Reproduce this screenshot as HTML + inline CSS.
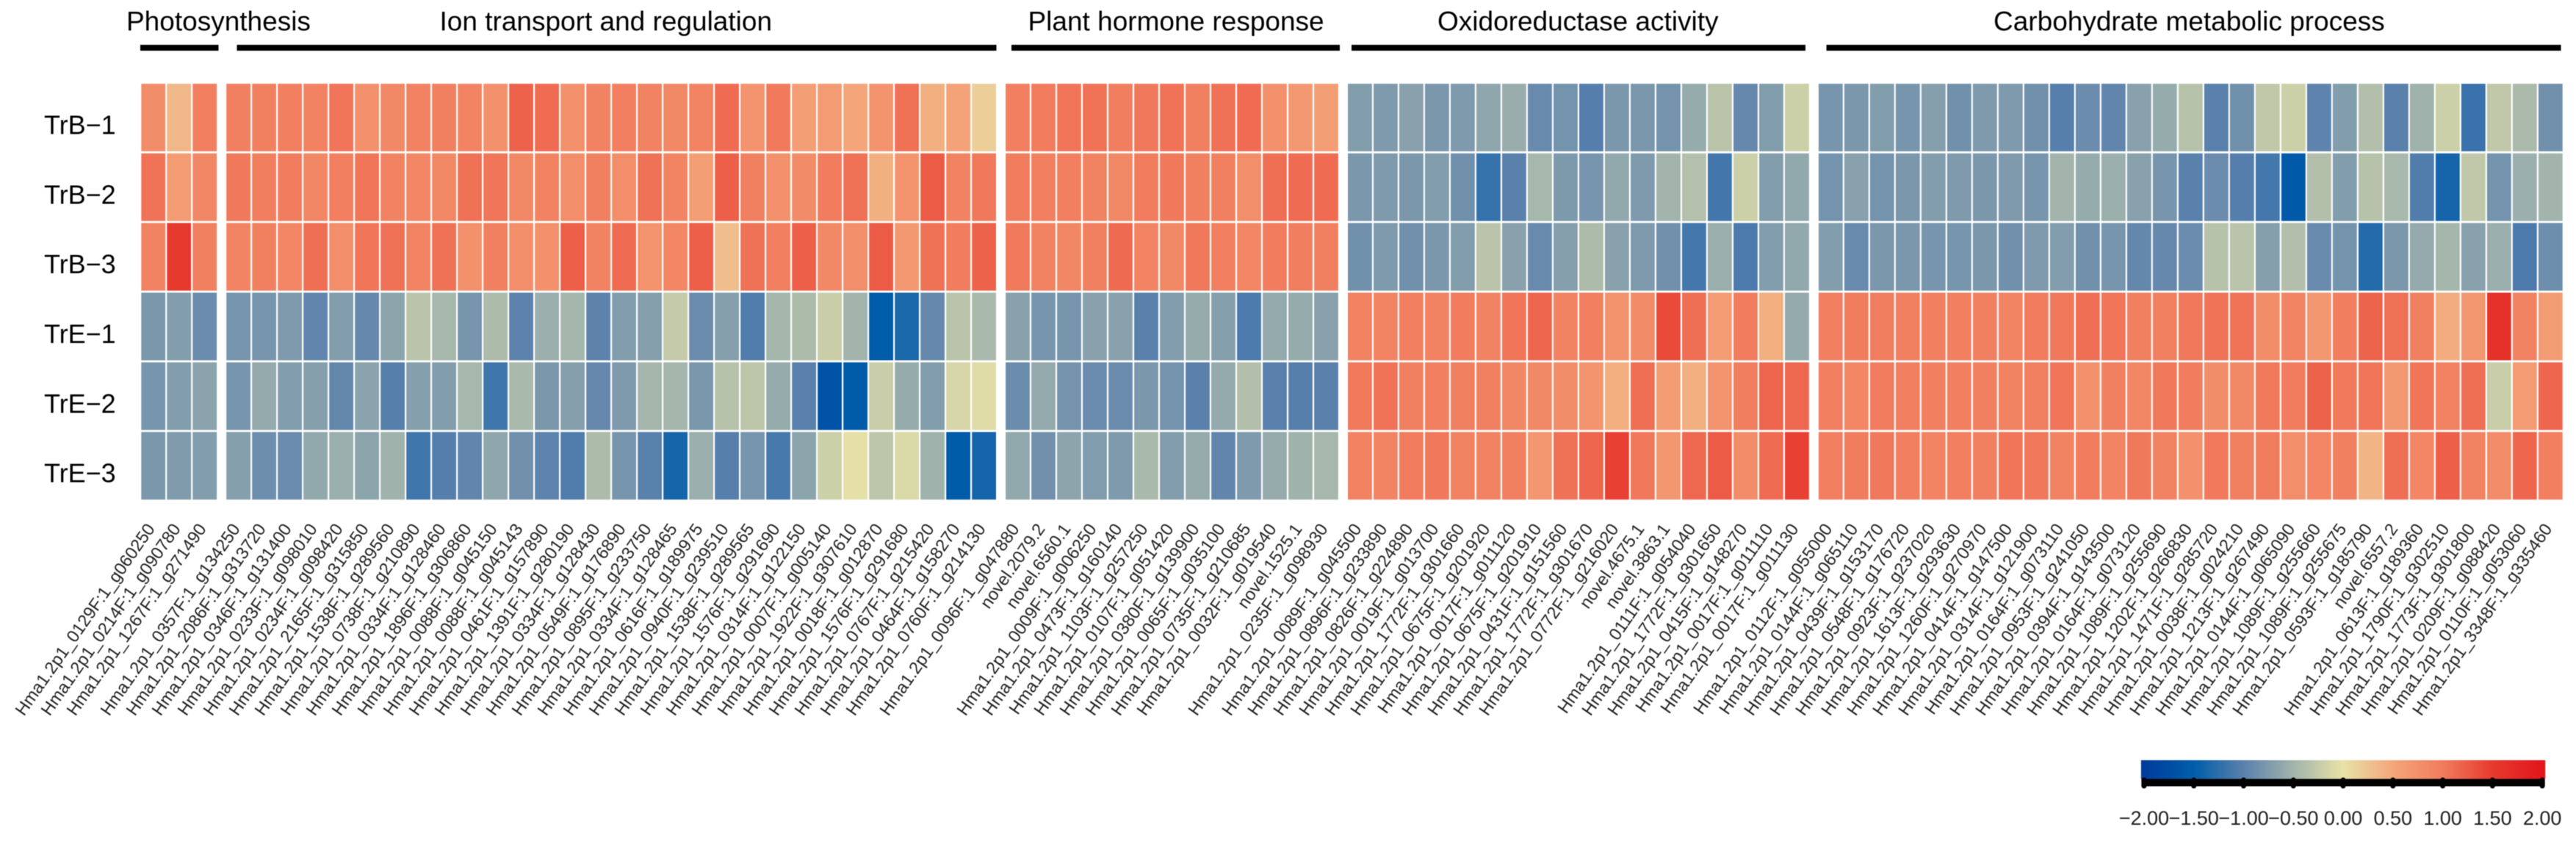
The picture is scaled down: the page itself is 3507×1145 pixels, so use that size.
<!DOCTYPE html>
<html lang="en">
<head>
<meta charset="utf-8">
<title>Gene expression heatmap</title>
<style>
html,body{margin:0;padding:0;background:#fff;}
svg{display:block;font-family:"Liberation Sans",Arial,sans-serif;filter:blur(0.6px);}
</style>
</head>
<body>
<svg id="chart" xmlns="http://www.w3.org/2000/svg" width="3507" height="1145" viewBox="0 0 3507 1145"></svg>
<script>
// ---- categories ----
const sampleLabels = ['TrB\u22121','TrB\u22122','TrB\u22123','TrE\u22121','TrE\u22122','TrE\u22123'];
const groupTitles = ['Photosynthesis','Ion transport and regulation','Plant hormone response','Oxidoreductase activity','Carbohydrate metabolic process'];

const photosynthesisGenes = ['Hma1.2p1_0129F:1_g060250','Hma1.2p1_0214F:1_g090780','Hma1.2p1_1267F:1_g271490'];
const ionGenes = ['Hma1.2p1_0357F:1_g134250','Hma1.2p1_2086F:1_g313720','Hma1.2p1_0346F:1_g131400','Hma1.2p1_0233F:1_g098010','Hma1.2p1_0234F:1_g098420','Hma1.2p1_2165F:1_g315850','Hma1.2p1_1538F:1_g289560','Hma1.2p1_0738F:1_g210890','Hma1.2p1_0334F:1_g128460','Hma1.2p1_1896F:1_g306860','Hma1.2p1_0088F:1_g045150','Hma1.2p1_0088F:1_g045143','Hma1.2p1_0461F:1_g157890','Hma1.2p1_1391F:1_g280190','Hma1.2p1_0334F:1_g128430','Hma1.2p1_0549F:1_g176890','Hma1.2p1_0895F:1_g233750','Hma1.2p1_0334F:1_g128465','Hma1.2p1_0616F:1_g189975','Hma1.2p1_0940F:1_g239510','Hma1.2p1_1538F:1_g289565','Hma1.2p1_1576F:1_g291690','Hma1.2p1_0314F:1_g122150','Hma1.2p1_0007F:1_g005140','Hma1.2p1_1922F:1_g307610','Hma1.2p1_0018F:1_g012870','Hma1.2p1_1576F:1_g291680','Hma1.2p1_0767F:1_g215420','Hma1.2p1_0464F:1_g158270','Hma1.2p1_0760F:1_g214130'];
const hormoneGenes = ['Hma1.2p1_0096F:1_g047880','novel.2079.2','novel.6560.1','Hma1.2p1_0009F:1_g006250','Hma1.2p1_0473F:1_g160140','Hma1.2p1_1103F:1_g257250','Hma1.2p1_0107F:1_g051420','Hma1.2p1_0380F:1_g139900','Hma1.2p1_0065F:1_g035100','Hma1.2p1_0735F:1_g210685','Hma1.2p1_0032F:1_g019540','novel.1525.1','Hma1.2p1_0235F:1_g098930'];
const oxidoGenes = ['Hma1.2p1_0089F:1_g045500','Hma1.2p1_0896F:1_g233890','Hma1.2p1_0826F:1_g224890','Hma1.2p1_0019F:1_g013700','Hma1.2p1_1772F:1_g301660','Hma1.2p1_0675F:1_g201920','Hma1.2p1_0017F:1_g011120','Hma1.2p1_0675F:1_g201910','Hma1.2p1_0431F:1_g151560','Hma1.2p1_1772F:1_g301670','Hma1.2p1_0772F:1_g216020','novel.4675.1','novel.3863.1','Hma1.2p1_0111F:1_g054040','Hma1.2p1_1772F:1_g301650','Hma1.2p1_0415F:1_g148270','Hma1.2p1_0017F:1_g011110','Hma1.2p1_0017F:1_g011130'];
const carbGenes = ['Hma1.2p1_0112F:1_g055000','Hma1.2p1_0144F:1_g065110','Hma1.2p1_0439F:1_g153170','Hma1.2p1_0548F:1_g176720','Hma1.2p1_0923F:1_g237020','Hma1.2p1_1613F:1_g293630','Hma1.2p1_1260F:1_g270970','Hma1.2p1_0414F:1_g147500','Hma1.2p1_0314F:1_g121900','Hma1.2p1_0164F:1_g073110','Hma1.2p1_0953F:1_g241050','Hma1.2p1_0394F:1_g143500','Hma1.2p1_0164F:1_g073120','Hma1.2p1_1089F:1_g255690','Hma1.2p1_1202F:1_g266830','Hma1.2p1_1471F:1_g285720','Hma1.2p1_0038F:1_g024210','Hma1.2p1_1213F:1_g267490','Hma1.2p1_0144F:1_g065090','Hma1.2p1_1089F:1_g255660','Hma1.2p1_1089F:1_g255675','Hma1.2p1_0593F:1_g185790','novel.6557.2','Hma1.2p1_0613F:1_g189360','Hma1.2p1_1790F:1_g302510','Hma1.2p1_1773F:1_g301800','Hma1.2p1_0209F:1_g088420','Hma1.2p1_0110F:1_g053060','Hma1.2p1_3348F:1_g335460'];

// ---- series values (one array per sample, per gene group) ----
const photosynthesisTrB1 = [.8,.35,.97];
const photosynthesisTrB2 = [1.07,.62,.87];
const photosynthesisTrB3 = [.92,1.5,.95];
const photosynthesisTrE1 = [-.78,-.72,-.88];
const photosynthesisTrE2 = [-.8,-.72,-.66];
const photosynthesisTrE3 = [-.78,-.74,-.72];

const ionTrB1 = [.95,.95,.97,.92,1.05,.75,.85,.92,.95,.9,.75,1.2,1.12,.75,.92,.97,.93,.85,.9,1.12,.72,1.02,.6,.62,.5,.72,1.08,.42,.55,.17];
const ionTrB2 = [1.03,.98,1.0,.87,.97,1.05,.92,.88,.85,1.08,1.05,.85,.92,.78,.95,.78,1.08,.9,.6,1.22,.95,.75,.82,1.0,1.08,.42,.72,1.25,.92,1.03];
const ionTrB3 = [.9,.95,.88,1.1,.78,1.05,1.08,.9,1.08,.75,.95,.78,.75,1.22,.92,1.12,.72,.88,1.22,.3,1.08,.97,1.22,.85,.78,1.25,.65,1.08,1.0,1.2];
const ionTrE1 = [-.8,-.8,-.75,-.95,-.72,-.92,-.65,-.33,-.47,-.8,-.42,-.98,-.55,-.48,-.98,-.72,-.7,-.25,-.88,-.7,-1.05,-.48,-.42,-.22,-.5,-1.5,-1.35,-.92,-.33,-.45];
const ionTrE2 = [-.8,-.6,-.72,-.7,-.93,-.66,-1.02,-.7,-.72,-.47,-1.15,-.45,-.78,-.7,-.92,-.75,-.48,-.48,-.78,-.35,-.3,-.58,-1.0,-1.65,-1.52,-.22,-.58,-.72,-.13,-.06];
const ionTrE3 = [-.7,-.87,-.88,-.62,-.55,-.65,-.52,-1.15,-1.03,-.95,-.63,-.85,-.97,-1.05,-.42,-.8,-1.0,-1.38,-.55,-1.02,-.8,-1.1,-.65,-.2,-.02,-.3,-.1,-.52,-1.52,-1.38];

const hormoneTrB1 = [.97,1.0,1.05,1.07,.98,1.03,1.07,.95,1.08,1.12,.75,.65,.6];
const hormoneTrB2 = [1.0,.97,.97,.92,.85,1.0,1.03,.95,.95,.78,1.1,1.12,1.12];
const hormoneTrB3 = [1.02,.93,.87,.95,1.13,.9,.85,1.03,.97,.88,1.0,.98,.95];
const hormoneTrE1 = [-.68,-.8,-.8,-.68,-.68,-1.0,-.72,-.58,-.7,-1.08,-.6,-.58,-.68];
const hormoneTrE2 = [-.88,-.6,-.82,-.88,-.88,-.78,-.82,-1.0,-.6,-.38,-1.0,-1.02,-1.0];
const hormoneTrE3 = [-.62,-.85,-.65,-.73,-.75,-.45,-.72,-.58,-.95,-.75,-.58,-.52,-.47];

const oxidoTrB1 = [-.72,-.75,-.68,-.78,-.75,-.63,-.57,-.9,-.82,-1.03,-.78,-.78,-.82,-.58,-.33,-.92,-.72,-.2];
const oxidoTrB2 = [-.78,-.75,-.78,-.72,-.85,-1.2,-1.0,-.47,-.76,-.8,-.62,-.75,-.5,-.37,-1.13,-.2,-.72,-.62];
const oxidoTrB3 = [-.85,-.75,-.85,-.78,-.72,-.33,-.68,-.9,-.7,-.42,-.68,-.75,-.85,-1.12,-.55,-1.08,-.72,-.62];
const oxidoTrE1 = [.93,.9,.97,.93,1.0,.92,1.05,1.17,.93,.97,.73,.82,1.38,1.1,.62,1.0,.42,-.6];
const oxidoTrE2 = [1.02,1.07,.95,.97,.95,.95,.87,.85,.8,.72,.42,1.1,.62,.42,.72,.98,1.17,1.15];
const oxidoTrE3 = [.93,.9,1.0,1.03,.92,.93,.95,.68,1.08,1.17,1.45,1.03,.68,1.15,1.25,.8,1.12,1.45];

const carbTrB1 = [-.8,-.78,-.72,-.8,-.7,-.85,-.75,-.75,-.85,-1.02,-.88,-.95,-.68,-.58,-.35,-1.0,-.85,-.28,-.2,-.97,-.72,-.38,-1.0,-.52,-.2,-1.18,-.28,-.43,-.85];
const carbTrB2 = [-.82,-.68,-.82,-.78,-.72,-.75,-.78,-.75,-.8,-.5,-.58,-.55,-.68,-.8,-1.0,-.88,-1.03,-1.12,-1.55,-.38,-.72,-.35,-.45,-1.05,-1.38,-.28,-.82,-.55,-.5];
const carbTrB3 = [-.72,-.9,-.78,-.78,-.8,-.8,-.78,-.85,-.75,-.72,-.85,-.8,-.93,-.92,-.88,-.35,-.33,-.7,-.38,-.9,-.82,-1.3,-.78,-.6,-.48,-.68,-.55,-1.08,-.87];
const carbTrE1 = [.97,1.0,.98,.95,.97,.97,.95,.9,1.0,1.03,1.1,1.05,.95,.95,1.03,1.07,1.07,.8,.9,.68,.98,1.18,1.08,.95,.45,.68,1.62,.93,.62];
const carbTrE2 = [.97,.88,1.0,.97,.97,.97,.95,.93,.95,1.05,.75,.95,.88,1.03,1.0,.8,.85,1.02,1.0,1.2,1.02,1.05,.65,1.05,.93,1.1,-.22,.62,1.17];
const carbTrE3 = [.97,1.0,1.03,.97,.9,.97,.95,1.05,1.03,.92,1.0,.9,1.03,.92,.75,1.02,.95,1.0,.78,.88,.95,.38,1.1,.88,1.22,.92,.8,1.17,.97];

// ---- tick labels ----
const legendTicks = [-2,-1.5,-1,-0.5,0,0.5,1,1.5,2];

// ---- assembled groups (references to the arrays above) ----
const groupGenes = [photosynthesisGenes, ionGenes, hormoneGenes, oxidoGenes, carbGenes];
const groupValues = [
  [photosynthesisTrB1,photosynthesisTrB2,photosynthesisTrB3,photosynthesisTrE1,photosynthesisTrE2,photosynthesisTrE3],
  [ionTrB1,ionTrB2,ionTrB3,ionTrE1,ionTrE2,ionTrE3],
  [hormoneTrB1,hormoneTrB2,hormoneTrB3,hormoneTrE1,hormoneTrE2,hormoneTrE3],
  [oxidoTrB1,oxidoTrB2,oxidoTrB3,oxidoTrE1,oxidoTrE2,oxidoTrE3],
  [carbTrB1,carbTrB2,carbTrB3,carbTrE1,carbTrE2,carbTrE3]
];

// ---- layout / axis functions ----
const svg = document.getElementById('chart');
const NS = 'http://www.w3.org/2000/svg';
const plotLeft = 192.3, plotTop = 114, colPitch = 35, rowPitch = 94.83, groupGap = 10.9;
const cellGapX = 2.2, cellGapY = 2.8;
function groupStart(g){
  let x = plotLeft;
  for(let i=0;i<g;i++){ x += groupGenes[i].length*colPitch + groupGap; }
  return x;
}
function xCell(g,c){ return groupStart(g)+c*colPitch; }
function yRow(r){ return plotTop+r*rowPitch; }
function xLegend(v){ return 3190 + v*135.55; }

const colorStops = [[-2,[0,60,155]],[-1.5,[0,93,170]],[-1,[90,128,172]],[-0.5,[162,180,172]],[0,[232,226,167]],[0.5,[244,166,122]],[1,[241,124,94]],[1.5,[231,58,46]],[2,[226,22,28]]];
function color(v){
  const s = colorStops;
  if(v<=s[0][0]) return 'rgb('+s[0][1].join(',')+')';
  for(let i=1;i<s.length;i++){
    if(v<=s[i][0]){
      const t=(v-s[i-1][0])/(s[i][0]-s[i-1][0]);
      const c=s[i-1][1].map((a,k)=>Math.round(a+(s[i][1][k]-a)*t));
      return 'rgb('+c.join(',')+')';
    }
  }
  return 'rgb('+s[s.length-1][1].join(',')+')';
}
function el(tag,attrs,parent){
  const e=document.createElementNS(NS,tag);
  for(const k in attrs){ e.setAttribute(k,attrs[k]); }
  (parent||svg).appendChild(e);
  return e;
}

// group titles + bars
const titleX = [172,598.5,1399.5,1957,2714];
const barSpans = [[191,297.5],[322.5,1356.5],[1377,1824],[1840,2458],[2486.5,3486.5]];
groupTitles.forEach((t,i)=>{
  const txt=el('text',{x:titleX[i],y:41.5,'font-size':37,fill:'#000'});
  
  
  txt.textContent=t;
  const bar=el('rect',{x:barSpans[i][0],y:61,width:barSpans[i][1]-barSpans[i][0],height:8,fill:'#000'});
  
  
});

// row labels
const rowBaselines = sampleLabels.map((_,r)=>yRow(r)+68.5);
sampleLabels.forEach((t,r)=>{
  const txt=el('text',{x:60,y:rowBaselines[r],'font-size':36,fill:'#000'});
  
  
  txt.textContent=t;
});

// heatmap cells + column labels
groupValues.forEach((rows,g)=>{
  const grp=el('g',{});
  
  
  rows.forEach((vals,r)=>{
    vals.forEach((v,c)=>{
      const cell=el('rect',{x:xCell(g,c),y:yRow(r),width:colPitch-cellGapX,height:rowPitch-cellGapY,fill:color(v)},grp);
      
      
    });
  });
  groupGenes[g].forEach((name,c)=>{
    const cx=xCell(g,c)+colPitch/2;
    const lab=el('text',{transform:'translate('+(cx+2)+',720) rotate(-55)','text-anchor':'end','font-size':23.5,fill:'#222'});
    
    
    lab.textContent=name;
  });
});

// colour legend
const defs=el('defs',{});
const grad=el('linearGradient',{id:'legendGradient',x1:'0',x2:'1',y1:'0',y2:'0'},defs);
const legendMin=-2.03, legendMax=2.03;
colorStops.forEach(s=>{
  el('stop',{offset:(s[0]-legendMin)/(legendMax-legendMin),'stop-color':color(s[0])},grad);
});
const legendBar=el('rect',{x:xLegend(legendMin),y:1035,width:xLegend(legendMax)-xLegend(legendMin),height:25.5,fill:'url(#legendGradient)'});


const legendAxis=el('rect',{x:xLegend(-2)-3.5,y:1060.5,width:xLegend(2)-xLegend(-2)+7,height:10,fill:'#000'});


legendTicks.forEach(v=>{
  const tick=el('rect',{x:xLegend(v)-3.5,y:1058.5,width:7,height:15,rx:3.5,fill:'#000'});
  
  
  const lab=el('text',{x:xLegend(v),y:1123,'text-anchor':'middle','font-size':27,fill:'#222'});
  
  
  lab.textContent=(v<0?'\u2212':'')+Math.abs(v).toFixed(2);
});
</script>
</body>
</html>
